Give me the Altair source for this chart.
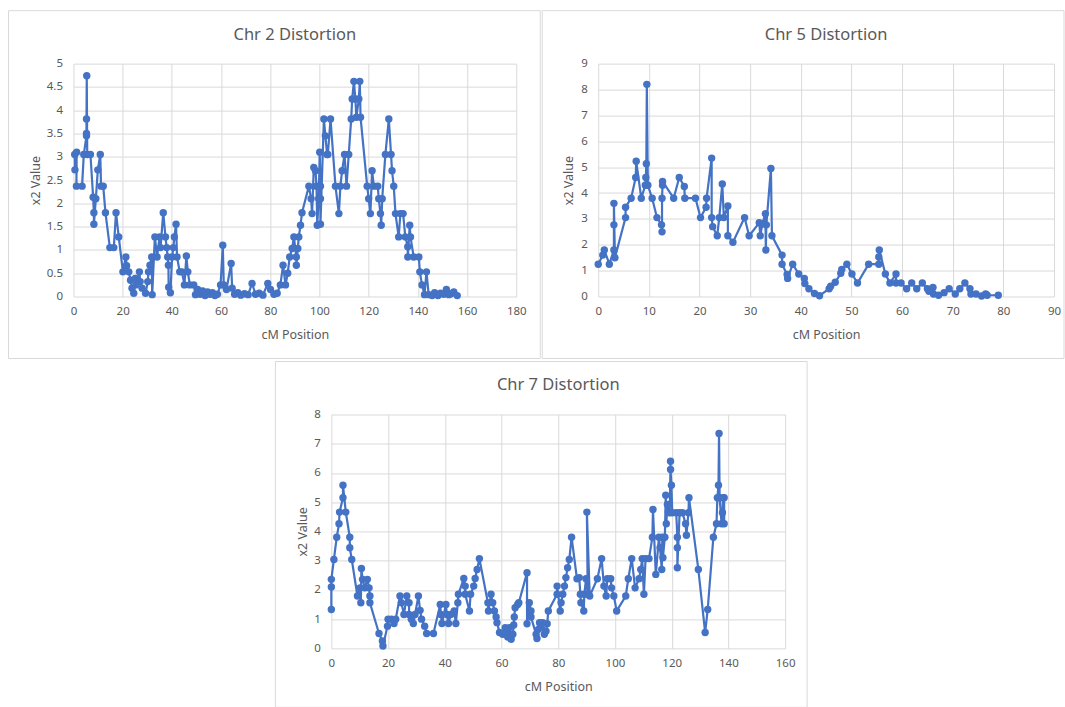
import altair as alt
import pandas as pd

# ---------------- data ----------------
chr2_cm = [0.5, 0.6, 1.3, 1.2, 3.5, 4.2, 5.3, 5.3, 5.3, 5.4, 5.6, 6.9, 8.0, 8.3, 8.3, 9.1, 9.9, 10.9,
           11.2, 12.1, 13.0, 14.8, 16.4, 17.3, 18.4, 20.1, 21.3, 21.6, 22.5, 23.2, 23.8, 24.5, 25.1,
           25.4, 26.8, 27.1, 27.9, 29.3, 30.2, 30.5, 31.1, 31.8, 32.0, 33.1, 34.0, 35.0, 35.4, 36.5,
           37.4, 37.9, 38.3, 38.6, 38.7, 39.4, 40.1, 40.6, 41.0, 41.7, 42.1, 43.2, 44.1, 45.1, 45.9,
           46.5, 47.3, 48.9, 49.6, 50.5, 51.5, 52.5, 53.5, 54.5, 55.5, 56.5, 57.5, 58.5, 59.8, 60.7,
           61.1, 62.2, 64.1, 64.5, 65.5, 66.8, 68.0, 69.5, 71.0, 72.6, 74.0, 75.5, 77.0, 79.0, 80.1,
           81.5, 82.8, 84.1, 85.2, 86.2, 87.1, 87.9, 88.9, 89.6, 90.6, 90.6, 91.2, 91.6, 92.3, 92.9,
           95.7, 96.6, 97.0, 97.7, 98.4, 98.8, 99.1, 99.7, 100.1, 100.4, 100.4, 100.4, 101.8, 102.4,
           103.1, 103.4, 104.5, 106.5, 107.9, 108.5, 109.2, 110.2, 111.0, 111.9, 112.9, 113.3, 114.0,
           114.6, 115.0, 116.0, 116.4, 116.7, 119.4, 120.0, 120.7, 121.4, 122.1, 123.7, 124.1, 124.8,
           125.1, 125.5, 126.8, 128.2, 129.1, 129.5, 130.2, 130.9, 132.2, 132.9, 134.0, 134.9, 135.9,
           135.9, 136.7, 137.0, 138.3, 140.4, 140.8, 141.7, 142.7, 143.5, 144.4, 145.8, 146.8, 148.2,
           149.2, 150.5, 151.6, 152.6, 153.5, 154.6, 156.0]
chr2_x2 = [3.05, 2.72, 3.1, 2.37, 2.37, 3.05, 3.45, 3.5, 3.81, 4.74, 3.05, 3.05, 2.13, 1.8, 1.55, 2.1,
           2.72, 3.05, 2.37, 2.37, 1.8, 1.05, 1.05, 1.8, 1.28, 0.53, 0.85, 0.66, 0.53, 0.35, 0.18, 0.07,
           0.39, 0.25, 0.53, 0.32, 0.18, 0.07, 0.32, 0.53, 0.67, 0.85, 0.04, 1.28, 0.85, 1.28, 1.05, 1.8,
           1.28, 1.05, 0.85, 0.67, 0.2, 0.08, 0.85, 1.05, 1.28, 1.55, 0.85, 0.53, 0.53, 0.25, 0.87,
           0.53, 0.25, 0.25, 0.04, 0.15, 0.05, 0.12, 0.02, 0.1, 0.05, 0.08, 0.02, 0.05, 0.25, 1.1,
           0.25, 0.15, 0.71, 0.18, 0.05, 0.08, 0.03, 0.06, 0.04, 0.28, 0.05, 0.07, 0.03, 0.28, 0.15,
           0.05, 0.07, 0.25, 0.67, 0.25, 0.5, 0.85, 1.03, 1.28, 0.85, 0.67, 1.03, 1.28, 1.53, 1.8,
           2.37, 2.1, 1.78, 2.77, 2.7, 2.37, 1.53, 2.1, 3.1, 2.37, 2.1, 1.55, 3.81, 3.45,
           3.05, 3.05, 3.81, 2.37, 1.78, 2.37, 2.7, 3.05, 2.37, 3.05, 3.81, 4.24, 4.62,
           4.24, 3.85, 4.24, 4.62, 3.85, 2.37, 2.1, 1.78, 2.7, 2.37, 2.37, 2.1, 1.78,
           1.53, 2.1, 3.05, 3.81, 3.05, 2.7, 2.37, 1.78, 1.28, 1.78, 1.78, 1.28, 1.07,
           0.85, 1.53, 1.28, 0.85, 0.85, 0.53, 0.25, 0.04, 0.53, 0.04, 0.02, 0.08, 0.02,
           0.07, 0.05, 0.15, 0.04, 0.06, 0.1, 0.02]

chr5_cm = [0.0, 0.9, 1.2, 2.2, 3.1, 3.1, 3.1, 3.3, 5.4, 5.4, 6.5, 7.4, 7.5, 8.5, 9.3, 9.4, 9.5, 9.6,
           9.8, 10.65, 11.6, 12.5, 12.6, 12.6, 12.7, 12.7, 14.9, 16.0, 17.0, 17.1, 19.2, 20.2, 21.3,
           21.4, 22.4, 22.4, 22.6, 23.5, 23.9, 24.5, 24.8, 25.6, 25.6, 26.6, 28.9, 29.8, 31.8, 32.0,
           32.4, 33.0, 33.1, 33.2, 34.1, 34.3, 36.3, 36.3, 37.3, 37.4, 38.4, 39.6, 40.7, 40.8, 41.6,
           42.7, 43.7, 45.6, 45.9, 46.8, 47.9, 48.1, 49.1, 50.1, 51.2, 53.4, 55.4, 55.4, 55.5, 56.7,
           57.6, 58.8, 58.8, 59.8, 60.9, 61.9, 62.9, 64.0, 65.0, 65.3, 66.1, 66.2, 67.2, 68.3, 69.3,
           70.5, 71.4, 72.4, 73.4, 73.6, 74.6, 75.7, 76.5, 76.8, 79.0]
chr5_x2 = [1.25, 1.6, 1.8, 1.25, 1.8, 2.77, 3.6, 1.5, 3.05, 3.45, 3.8, 4.6, 5.23, 3.8, 4.3, 4.6, 5.13,
           8.2, 4.3, 3.8, 3.05, 2.77, 2.5, 3.8, 4.3, 4.45, 3.8, 4.6, 4.25, 3.8, 3.8, 3.05, 3.45,
           3.8, 5.35, 3.05, 2.7, 2.35, 3.05, 4.35, 3.05, 3.5, 2.35, 2.1, 3.05, 2.35, 2.85, 2.35,
           2.8, 3.2, 1.8, 2.77, 4.95, 2.35, 1.6, 1.25, 0.85, 0.7, 1.25, 0.87, 0.7, 0.5, 0.3,
           0.12, 0.03, 0.3, 0.4, 0.55, 0.9, 1.05, 1.25, 0.87, 0.52, 1.25, 1.25, 1.53, 1.8, 0.87,
           0.52, 0.87, 0.52, 0.52, 0.3, 0.52, 0.3, 0.52, 0.3, 0.2, 0.35, 0.1, 0.05, 0.15, 0.3,
           0.1, 0.3, 0.52, 0.3, 0.1, 0.1, 0.02, 0.1, 0.05, 0.05]

chr7_cm = [0.0, 0.0, 0.0, 0.9, 1.9, 2.7, 2.9, 4.1, 4.1, 5.1, 6.5, 6.5, 7.2, 9.2, 10.1, 10.4, 10.6,
           11.0, 11.8, 12.7, 13.3, 13.6, 13.6, 16.8, 18.0, 18.2, 19.8, 20.0, 21.2, 22.1, 22.7, 24.2,
           24.7, 25.6, 26.6, 27.4, 27.4, 28.2, 28.9, 29.5, 30.7, 31.3, 31.8, 32.9, 33.6, 36.0, 38.4,
           38.6, 39.0, 40.4, 40.7, 41.3, 42.1, 43.3, 43.9, 44.6, 44.8, 46.7, 47.2, 47.2, 48.7, 49.1,
           50.2, 50.7, 51.4, 52.2, 55.2, 55.4, 56.3, 56.9, 57.5, 58.1, 58.4, 59.3, 60.4, 61.3, 62.0,
           62.2, 62.8, 63.4, 64.0, 64.3, 64.5, 64.8, 65.7, 66.1, 69.0, 69.0, 69.8, 70.4, 70.4, 72.2,
           72.5, 73.0, 73.4, 74.0, 74.5, 75.1, 75.7, 76.1, 76.5, 79.6, 79.6, 80.7, 81.0, 81.6, 82.2,
           82.7, 83.3, 83.9, 84.7, 86.6, 87.4, 87.8, 88.0, 89.0, 89.2, 89.8, 90.4, 90.1, 91.1, 93.8,
           95.3, 96.1, 96.9, 97.3, 98.5, 98.8, 99.6, 100.6, 103.8, 104.7, 105.9, 107.1, 108.5, 109.1,
           109.6, 110.2, 110.8, 112.0, 113.2, 113.4, 114.4, 115.5, 115.9, 116.5, 116.7, 116.9, 117.6,
           117.9, 118.1, 118.5, 118.8, 119.3, 119.6, 119.6, 119.9, 120.2, 121.6, 122.0, 122.0, 122.0,
           122.8, 123.8, 124.9, 125.2, 125.9, 126.1, 129.4, 131.8, 132.7, 134.7, 135.8, 136.1, 136.5,
           136.7, 136.9, 137.6, 137.9, 138.1, 138.5, 138.5]
chr7_x2 = [1.33, 2.1, 2.36, 3.04, 3.8, 4.26, 4.66, 5.15, 5.58, 4.66, 3.8, 3.44, 3.04, 1.79, 2.07, 1.56,
           2.73, 2.36, 2.07, 2.36, 2.07, 1.79, 1.56, 0.51, 0.25, 0.08, 0.76, 1.0, 1.0, 0.85, 1.0, 1.79,
           1.56, 1.16, 1.79, 1.56, 1.16, 1.0, 0.85, 1.16, 1.79, 1.3, 1.0, 0.76, 0.51, 0.51, 1.5,
           1.16, 0.85, 1.5, 1.16, 0.85, 1.16, 1.28, 0.85, 1.56, 1.85, 2.39, 2.13, 1.85, 1.28, 1.85,
           2.13, 2.39, 2.7, 3.07, 1.56, 1.28, 1.85, 1.56, 1.28, 1.07, 0.88, 0.54, 0.48, 0.71, 0.54,
           0.39, 0.71, 0.31, 0.48, 0.8, 1.07, 1.39, 1.5, 1.56, 2.59, 0.84, 1.56, 1.28, 1.07, 0.48,
           0.34, 0.65, 0.88, 0.71, 0.88, 0.48, 0.59, 0.84, 1.28, 1.85, 2.13, 1.28, 1.56, 1.85, 2.13,
           2.42, 2.76, 3.04, 3.8, 2.38, 2.42, 1.85, 1.56, 1.28, 1.85, 2.38, 1.85, 4.66, 1.79, 2.38,
           3.07, 2.13, 1.79, 2.38, 2.38, 2.07, 1.79, 1.28, 1.79, 2.38, 3.07, 2.07, 2.38, 2.7,
           3.07, 1.85, 3.07, 3.07, 3.8, 4.75, 2.53, 3.8, 3.44, 2.7, 3.8, 3.1, 3.8,
           5.24, 4.26, 4.92, 4.67, 4.64, 6.4, 6.12, 5.58, 4.64, 4.64, 3.8, 3.44, 2.76,
           4.64, 4.64, 4.26, 3.87, 4.64, 5.15, 2.7, 0.54, 1.33, 3.8, 4.26, 5.15, 5.58,
           7.35, 5.15, 4.26, 4.64, 5.15, 5.15, 4.26]

titles = ["Chr 2 Distortion", "Chr 5 Distortion", "Chr 7 Distortion"]
x_ticks = [list(range(0, 181, 20)), list(range(0, 91, 10)), list(range(0, 161, 20))]
y_ticks = [[i * 0.5 for i in range(11)], list(range(0, 10)), list(range(0, 9))]

BLUE = "#4472C4"
GRID = "#d9d9d9"
TEXT = "#595959"
FONT = "Noto Sans"


def panel(cm, vals, title, xt, yt, w, h, box, ytitle_x):
    df = pd.DataFrame({"cm": cm, "v": vals, "i": list(range(len(cm)))})
    common = dict(grid=True, gridColor=GRID, gridWidth=1, domain=False, ticks=False, tickSize=0,
                  labelFont=FONT, labelFontSize=11.5, labelColor=TEXT, labelOverlap=False,
                  labelFlush=False, labelBound=False,
                  titleFont=FONT, titleFontSize=12.5, titleColor=TEXT, titleFontWeight="normal",
                  titleBaseline="middle")
    xenc = alt.X(
        "cm:Q",
        scale=alt.Scale(domain=[xt[0], xt[-1]], nice=False, zero=False),
        axis=alt.Axis(values=xt, title="cM Position", labelPadding=9, titleX=w / 2, titleY=38,
                      format="d", **common),
    )
    yenc = alt.Y(
        "v:Q",
        scale=alt.Scale(domain=[yt[0], yt[-1]], nice=False, zero=False),
        axis=alt.Axis(values=yt, title="x2 Value", labelPadding=11, titleX=ytitle_x,
                      titleY=h / 2, titleAngle=-90, format=".1~f", **common),
    )
    base = alt.Chart(df).encode(x=xenc, y=yenc)
    line = base.mark_line(color=BLUE, strokeWidth=2.2).encode(order="i:Q")
    pts = base.mark_circle(color=BLUE, size=55, opacity=1)
    one = alt.Data(values=[{"a": 1}])
    frame = alt.Chart(one).mark_rect(fill="transparent", stroke=GRID, strokeWidth=1).encode(
        x=alt.value(box[0]), x2=alt.value(w + box[1]),
        y=alt.value(box[2]), y2=alt.value(h + box[3]))
    ttl = alt.Chart(one).mark_text(text=title, font=FONT, fontSize=16.5, color=TEXT,
                                   baseline="middle", align="center").encode(
        x=alt.value(w / 2), y=alt.value(-29))
    return alt.layer(line, pts, frame, ttl).properties(width=w, height=h)


p1 = panel(chr2_cm, chr2_x2, titles[0], x_ticks[0], y_ticks[0], 443, 233, (-65, 24, -53, 62), -38)
p2 = panel(chr5_cm, chr5_x2, titles[1], x_ticks[1], y_ticks[1], 456, 233, (-56, 10, -53, 62), -30)
p3 = panel(chr7_cm, chr7_x2, titles[2], x_ticks[2], y_ticks[2], 454, 234, (-56, 22, -53, 59), -29)

one_row = alt.Data(values=[{"a": 1}])
spacer = alt.Chart(one_row).mark_rule(stroke="transparent", strokeWidth=1).encode(
    x=alt.value(0), x2=alt.value(200), y=alt.value(0)).properties(width=200, height=1)

top = alt.hconcat(p1, p2, spacing=0)
bottom = alt.hconcat(spacer, p3, spacing=0)
chart = alt.vconcat(top, bottom, spacing=1).properties(
    padding={"left": 7.5, "top": 9.5, "right": 0, "bottom": 0},
    background="white",
).configure_view(strokeWidth=0)

chart.save("out.html", embed_options={"renderer": "svg", "actions": False})
